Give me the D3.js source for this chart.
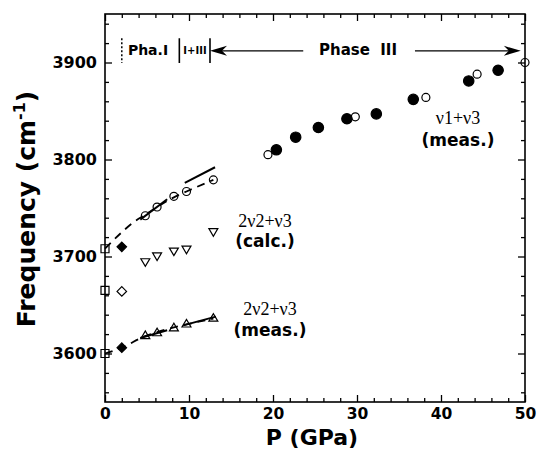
<!DOCTYPE html>
<html><head><meta charset="utf-8">
<script src="https://cdn.jsdelivr.net/npm/d3@7"></script>
<style>
body{margin:0;background:#fff;}
svg{display:block;}
.tick text{font-family:"DejaVu Sans",sans-serif;font-weight:bold;font-size:16px;fill:#000;}
.xax .tick text{font-size:15.5px;}
</style></head>
<body><svg id="c" width="538" height="450"></svg>
<script>
// ---- data (P in GPa, frequency in cm-1) ----
const xTicks = [0, 10, 20, 30, 40, 50];
const yTicks = [3600, 3700, 3800, 3900];
// nu1+nu3 measured, phase III
const nu13FilledP = [20.4, 22.7, 25.4, 28.8, 32.3, 36.7, 43.3, 46.8];
const nu13FilledF = [3810, 3823, 3833, 3842, 3847, 3862, 3881, 3892];
const nu13OpenP = [19.4, 29.8, 38.2, 44.3, 50];
const nu13OpenF = [3805, 3844, 3864, 3888, 3900];
// nu1+nu3 low pressure (open circles)
const lowOpenP = [4.8, 6.2, 8.2, 9.7, 12.9];
const lowOpenF = [3742, 3751, 3762, 3767, 3779];
// ambient squares
const squareP = [0, 0, 0];
const squareF = [3708, 3665, 3600];
// diamonds
const filledDiamondP = [2, 2];
const filledDiamondF = [3710, 3606];
const openDiamondP = [2];
const openDiamondF = [3664];
// 2nu2+nu3 calculated
const calcP = [4.8, 6.2, 8.2, 9.7, 12.9];
const calcF = [3694, 3700, 3705, 3707, 3725];
// 2nu2+nu3 measured
const measP = [4.8, 6.2, 8.2, 9.7, 12.9];
const measF = [3619, 3622, 3627, 3631, 3637];
// guide curves
const upperDashP = [0, 2, 3.5, 4.8, 6.2, 8.2, 9.7, 12.9];
const upperDashF = [3708, 3725, 3736, 3743, 3751, 3761, 3767, 3779];
const lowerDashP = [0, 2, 4.8, 6.2, 8.2, 9.7, 12.9];
const lowerDashF = [3600, 3606, 3618, 3622, 3627, 3630, 3636];
const upperSolid1P = [4.2, 7.4], upperSolid1F = [3738, 3759];
const upperSolid2P = [9.5, 13.1], upperSolid2F = [3776, 3792];
const lowerSolid1P = [4.2, 7.4], lowerSolid1F = [3616, 3624];
const lowerSolid2P = [9.3, 13.2], lowerSolid2F = [3629, 3638];

const zip = (a, b) => a.map((v, i) => [v, b[i]]);

const svg = d3.select("#c");
const x = d3.scaleLinear().domain([0, 50]).range([105, 525]);
const y = d3.scaleLinear().domain([3550, 3950]).range([402, 14]);
const X0 = 105, X1 = 525, Y0 = 402, Y1 = 14;

// axes
const minorX = d3.range(0, 51, 2).filter(v => v % 10 !== 0);
const minorY = d3.range(3560, 3950, 20).filter(v => v % 100 !== 0);
function styleAxis(g){ g.select(".domain").remove(); g.selectAll(".tick line").attr("stroke","#000").attr("stroke-width",1.3); }
svg.append("g").attr("class","xax").attr("transform",`translate(0,${Y0})`)
  .call(d3.axisBottom(x).tickValues(xTicks).tickSize(-7).tickPadding(6).tickFormat(d3.format("d"))).call(styleAxis);
svg.append("g").attr("transform",`translate(0,${Y0})`)
  .call(d3.axisBottom(x).tickValues(minorX).tickSize(-4).tickFormat("")).call(styleAxis);
svg.append("g").attr("transform",`translate(0,${Y1})`)
  .call(d3.axisTop(x).tickValues(xTicks).tickSize(-7).tickFormat("")).call(styleAxis);
svg.append("g").attr("transform",`translate(0,${Y1})`)
  .call(d3.axisTop(x).tickValues(minorX).tickSize(-4).tickFormat("")).call(styleAxis);
svg.append("g").attr("transform",`translate(${X0},0)`)
  .call(d3.axisLeft(y).tickValues(yTicks).tickSize(-7).tickPadding(8).tickFormat(d3.format("d"))).call(styleAxis);
svg.append("g").attr("transform",`translate(${X0},0)`)
  .call(d3.axisLeft(y).tickValues(minorY).tickSize(-4).tickFormat("")).call(styleAxis);
svg.append("g").attr("transform",`translate(${X1},0)`)
  .call(d3.axisRight(y).tickValues(yTicks).tickSize(-7).tickFormat("")).call(styleAxis);
svg.append("g").attr("transform",`translate(${X1},0)`)
  .call(d3.axisRight(y).tickValues(minorY).tickSize(-4).tickFormat("")).call(styleAxis);
svg.append("rect").attr("x",X0).attr("y",Y1).attr("width",X1-X0).attr("height",Y0-Y1)
  .attr("fill","none").attr("stroke","#000").attr("stroke-width",1.6);

// axis titles
svg.append("text").attr("x",312).attr("y",445).attr("text-anchor","middle")
  .attr("font-family","DejaVu Sans").attr("font-weight","bold").attr("font-size",22).text("P (GPa)");
const yt = svg.append("text").attr("transform","translate(35,209) rotate(-90)").attr("text-anchor","middle")
  .attr("font-family","DejaVu Sans").attr("font-weight","bold").attr("font-size",25);
yt.append("tspan").text("Frequency (cm");
yt.append("tspan").attr("font-size",16).attr("dy",-10).text("-1");
yt.append("tspan").attr("dy",10).text(")");

// guide lines
const line = d3.line().x(d => x(d[0])).y(d => y(d[1]));
const curve = d3.line().x(d => x(d[0])).y(d => y(d[1])).curve(d3.curveMonotoneX);
const lines = svg.append("g").attr("fill","none").attr("stroke","#000");
lines.append("path").attr("d",curve(zip(upperDashP,upperDashF))).attr("stroke-width",1.8).attr("stroke-dasharray","8,6");
lines.append("path").attr("d",curve(zip(lowerDashP,lowerDashF))).attr("stroke-width",1.8).attr("stroke-dasharray","8,6");
[[upperSolid1P,upperSolid1F],[upperSolid2P,upperSolid2F],[lowerSolid1P,lowerSolid1F],[lowerSolid2P,lowerSolid2F]]
  .forEach(([p,f]) => lines.append("path").attr("d",line(zip(p,f))).attr("stroke-width",2));

// markers
const mk = svg.append("g");
function sym(type, size, P, F, filled){
  mk.selectAll(null).data(zip(P,F)).join("path")
    .attr("transform", d => `translate(${x(d[0])},${y(d[1])})`)
    .attr("d", d3.symbol().type(type).size(size)())
    .attr("fill", filled ? "#000" : "#fff").attr("fill-opacity", filled ? 1 : 0)
    .attr("stroke","#000").attr("stroke-width",1.2);
}
const triDown = { draw(ctx, s){ const r = Math.sqrt(s)/2; ctx.moveTo(-r,-r*0.8); ctx.lineTo(r,-r*0.8); ctx.lineTo(0,r*0.9); ctx.closePath(); } };
const triUp = { draw(ctx, s){ const r = Math.sqrt(s)/2; ctx.moveTo(-r,r*0.8); ctx.lineTo(r,r*0.8); ctx.lineTo(0,-r*0.9); ctx.closePath(); } };
const diamond = { draw(ctx, s){ const r = Math.sqrt(s)/2; ctx.moveTo(0,-r); ctx.lineTo(r,0); ctx.lineTo(0,r); ctx.lineTo(-r,0); ctx.closePath(); } };
sym(d3.symbolCircle, 85, nu13FilledP, nu13FilledF, true);
sym(d3.symbolCircle, 50, nu13OpenP, nu13OpenF, false);
sym(d3.symbolCircle, 50, lowOpenP, lowOpenF, false);
sym(d3.symbolSquare, 64, squareP, squareF, false);
sym(diamond, 90, filledDiamondP, filledDiamondF, true);
sym(diamond, 90, openDiamondP, openDiamondF, false);
sym(triDown, 80, calcP, calcF, false);
sym(triUp, 80, measP, measF, false);

// phase annotations
const ann = svg.append("g").attr("stroke","#000");
ann.append("line").attr("x1",x(2)).attr("x2",x(2)).attr("y1",y(3925)).attr("y2",y(3899.5)).attr("stroke-width",1.5).attr("stroke-dasharray","2,2");
[8.85, 12.5].forEach(p => ann.append("line").attr("x1",x(p)).attr("x2",x(p)).attr("y1",y(3925)).attr("y2",y(3899.5)).attr("stroke-width",1.6));
const ay = y(3912);
ann.append("line").attr("x1",x(12.5)+10).attr("x2",x(23.6)).attr("y1",ay).attr("y2",ay).attr("stroke-width",1.2);
ann.append("line").attr("x1",x(36.9)).attr("x2",x(49.5)-10).attr("y1",ay).attr("y2",ay).attr("stroke-width",1.2);
ann.append("path").attr("stroke","none").attr("fill","#000")
  .attr("d",`M${x(12.5)},${ay} L${x(12.5)+17},${ay-5} L${x(12.5)+12},${ay} L${x(12.5)+17},${ay+5}Z`);
ann.append("path").attr("stroke","none").attr("fill","#000")
  .attr("d",`M${x(49.5)},${ay} L${x(49.5)-17},${ay-5} L${x(49.5)-12},${ay} L${x(49.5)-17},${ay+5}Z`);

const txt = (tx, ty, s, size, family, weight, anchor) => svg.append("text").attr("x",tx).attr("y",ty)
  .attr("font-family",family).attr("font-weight",weight).attr("font-size",size)
  .attr("text-anchor",anchor||"middle").text(s);
const SANS = "DejaVu Sans", SERIF = "Liberation Serif";
txt(148, 55, "Pha.I", 14, SANS, "bold");
txt(195, 54, "I+III", 10, SANS, "bold");
txt(358, 55, "Phase\u00a0\u00a0III", 15, SANS, "bold");
txt(458, 124, "\u03bd1+\u03bd3", 18, SERIF, "normal");
txt(458, 146, "(meas.)", 17, SANS, "bold");
txt(265, 227, "2\u03bd2+\u03bd3", 18, SERIF, "normal");
txt(265, 247, "(calc.)", 17, SANS, "bold");
txt(270, 315, "2\u03bd2+\u03bd3", 18, SERIF, "normal");
txt(270, 336, "(meas.)", 17, SANS, "bold");
</script></body></html>
